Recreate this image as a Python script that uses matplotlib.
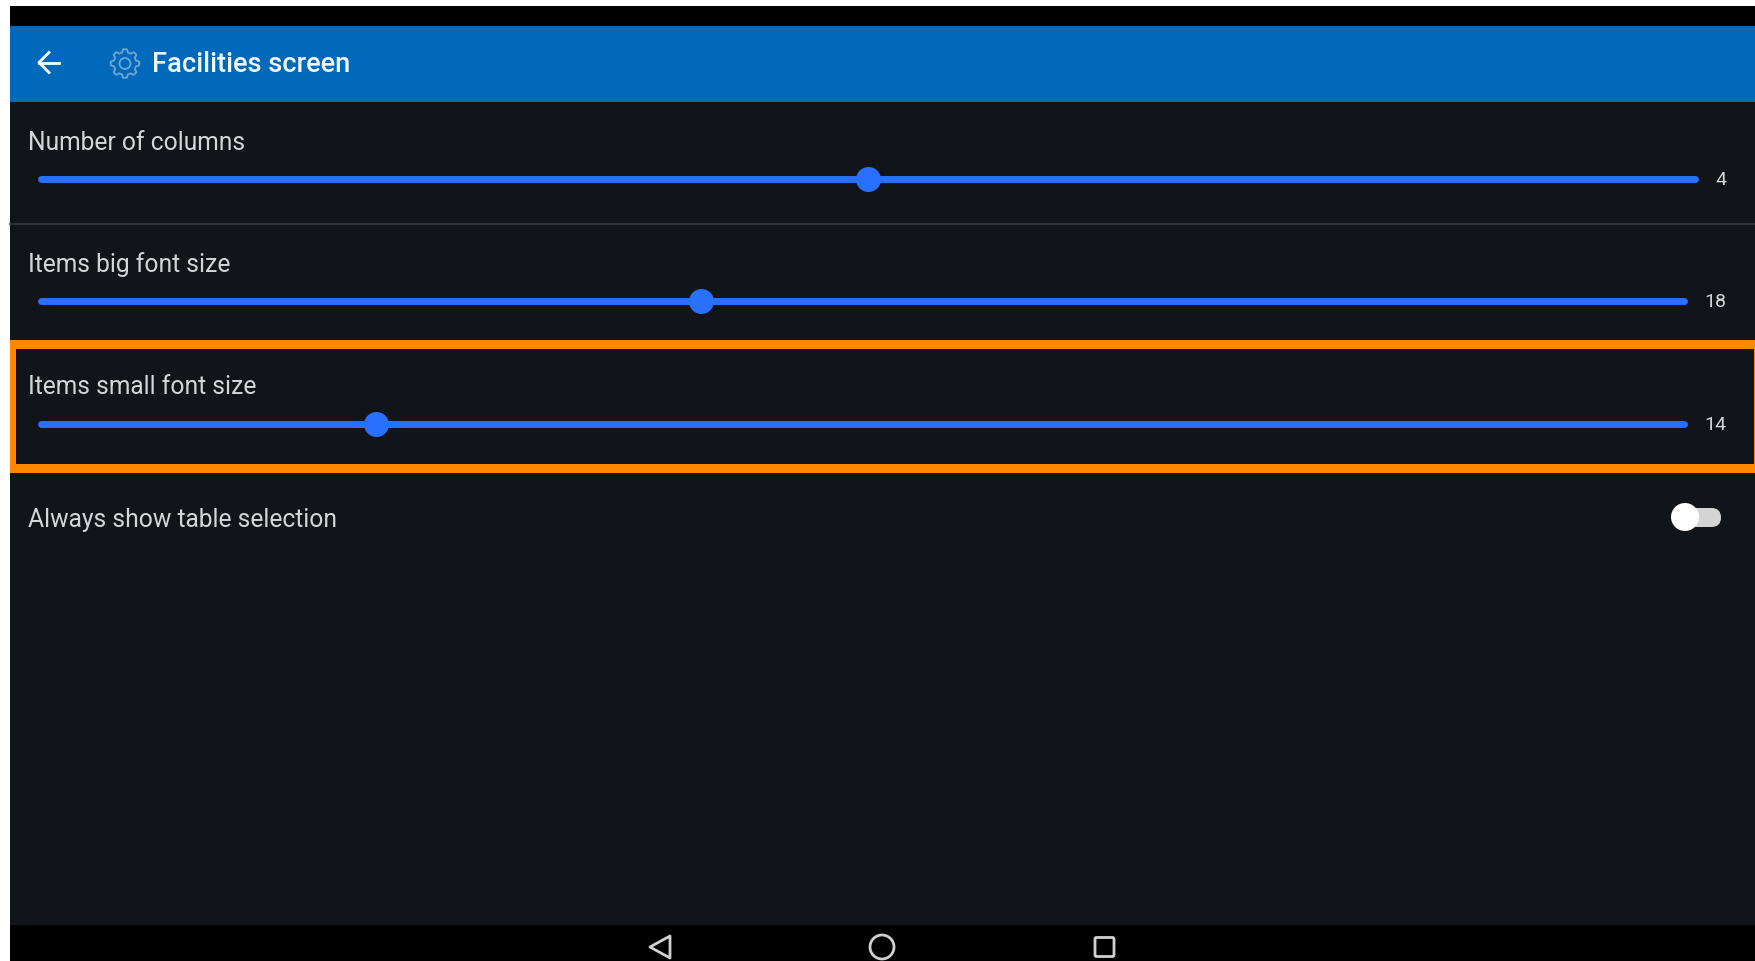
import numpy as np
from matplotlib import pyplot as plt
from matplotlib.patches import Circle, FancyBboxPatch, Polygon, Rectangle

plt.rcParams['font.family'] = ['Roboto', 'DejaVu Sans']

W, H = 1756, 962

title = 'Facilities screen'
sliderLabels = ['Number of columns', 'Items big font size', 'Items small font size']
sliderValues = [4, 18, 14]
sliderMin = [1, 10, 10]
sliderMax = [7, 30, 30]
toggleLabel = 'Always show table selection'
toggleOn = False

BLUE = '#2970ff'
TEXT = '#d4d5d6'
ORANGE = '#ff8800'
LABEL_SIZE = 17.75


def createFig():
  fig = plt.figure(figsize=(W / 100, H / 100), dpi=100, facecolor='white')
  ax = fig.add_axes([0, 0, 1, 1])
  # screen axes are in pixels, y going down like the screenshot
  ax.set_xlim(0, W)
  ax.set_ylim(H, 0)
  ax.axis('off')
  return fig, ax


def drawSlider(fig, ax, label, value, vmin, vmax, y, right):
  left = 41.5
  inset = 9.5
  ax.text(28, y - 30, label, color=TEXT, fontsize=LABEL_SIZE, va='baseline', ha='left')
  ax.plot([left, right], [y, y], color=BLUE, lw=5, solid_capstyle='round')
  # the thumb lives on its own axis, scaled to the slider range
  sub = fig.add_axes([(left + inset) / W, (H - y - 13) / H, (right - left - 2 * inset) / W, 26 / H])
  sub.set_xlim(vmin, vmax)
  sub.set_ylim(-1, 1)
  sub.axis('off')
  sub.scatter([value], [0], s=18 ** 2, color=BLUE, linewidths=0, clip_on=False, zorder=3)
  ax.text(1726, y + 5.5, str(value), color=TEXT, fontsize=14, va='baseline', ha='right')


def drawGear(ax, cx, cy):
  t = np.linspace(0, 2 * np.pi, 400)
  r = 12.8 + 1.5 * np.clip(2.2 * np.cos(8 * t), -1, 1)
  ax.plot(cx + r * np.cos(t), cy + r * np.sin(t), color='#6fa5d2', lw=1.3)
  ax.add_patch(Circle((cx, cy), 5.5, fill=False, ec='#6fa5d2', lw=1.3))


fig, ax = createFig()

# screen, status bar, nav bar
ax.add_patch(Rectangle((10, 7), W - 10, H - 7, color='black', lw=0))
ax.add_patch(Rectangle((10, 27), W - 10, 899, color='#11151a', lw=0))
ax.add_patch(Rectangle((10, 27), W - 10, 76, color='#0069bc', lw=0))

# header
ax.plot([39, 59], [63.5, 63.5], color='white', lw=2)
ax.plot([49, 39, 49], [53.5, 63.5, 73.5], color='white', lw=2)
drawGear(ax, 125, 64.5)
ax.text(152, 71.5, title, color='#eef5fb', fontsize=19.6, fontweight='medium', va='baseline', ha='left')

# sliders
sliderY = [179.5, 302, 424.5]
sliderRight = [1695.5, 1684.5, 1684.5]
for i in range(len(sliderLabels)):
  drawSlider(fig, ax, sliderLabels[i], sliderValues[i], sliderMin[i], sliderMax[i], sliderY[i], sliderRight[i])
ax.plot([10, W], [225, 225], color='#35383c', lw=1.2)

# highlight box
ax.add_patch(Rectangle((10, 341), 6, 133, color=ORANGE, lw=0))
ax.add_patch(Rectangle((10, 341), W - 10, 9, color=ORANGE, lw=0))
ax.add_patch(Rectangle((10, 465), W - 10, 9, color=ORANGE, lw=0))
ax.add_patch(Rectangle((W - 2, 341), 2, 133, color=ORANGE, lw=0))

# toggle
ax.text(28, 527.5, toggleLabel, color=TEXT, fontsize=LABEL_SIZE, va='baseline', ha='left')
ax.add_patch(FancyBboxPatch((1683, 509), 38, 19, boxstyle='round,pad=0,rounding_size=9.5', fc='#d4d4d4', ec='none'))
ax.add_patch(Circle((1714 if toggleOn else 1685, 518), 14, fc='white', ec='none', zorder=3))

# nav bar icons
nav = '#d0d0d0'
ax.add_patch(Polygon([[670, 937], [670, 959], [650, 948]], closed=True, fill=False, ec=nav, lw=2, joinstyle='round'))
ax.add_patch(Circle((882, 948), 12, fill=False, ec=nav, lw=2))
ax.add_patch(FancyBboxPatch((1095, 938.5), 19, 19, boxstyle='round,pad=0,rounding_size=1.5', fill=False, ec=nav, lw=2))

fig.savefig('out.png', dpi=100)
